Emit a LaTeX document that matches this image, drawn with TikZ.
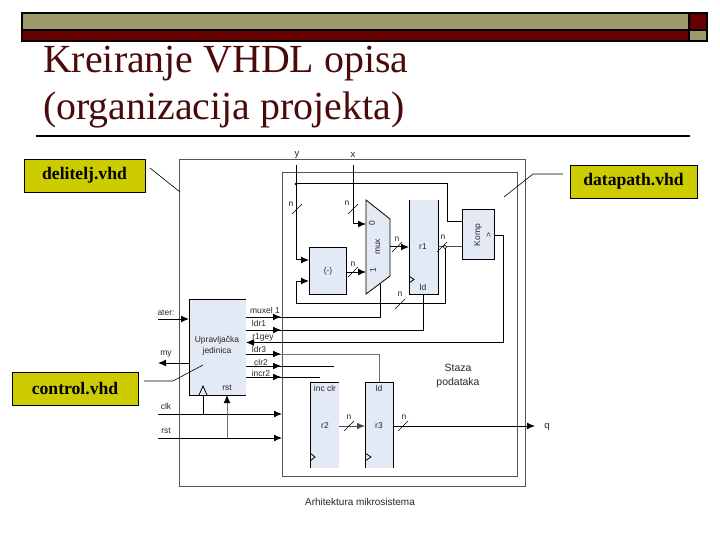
\documentclass[tikz,border=0pt]{standalone}
\usepackage{fontspec}
\setmainfont{Liberation Serif}
\newfontfamily\diafont{Liberation Sans}
\usetikzlibrary{arrows.meta}
\definecolor{olivebar}{HTML}{9C9A6A}
\definecolor{maroonbar}{HTML}{660000}
\definecolor{titlecol}{HTML}{4A0A0A}
\definecolor{blockblue}{HTML}{E4EAF5}
\definecolor{callout}{HTML}{CCCC00}
\definecolor{framegray}{HTML}{555555}
\tikzset{x=1bp,y=-1bp,
 bar/.style={draw=black,line width=1.4bp},
 calloutbox/.style={draw=black,line width=0.9bp,fill=callout,minimum width=#1,minimum height=33bp,inner sep=0pt,font=\fontsize{17.7}{19}\selectfont\bfseries,text=black},
 leader/.style={draw=black,line width=0.6bp},
 block/.style={fill=blockblue,draw=black,line width=0.8bp},
 lab/.style={font=\diafont\fontsize{8.5}{10}\selectfont,inner sep=0pt,text=black!85},
 wire/.style={draw=black,line width=1bp},
 sig/.style={wire,-{Latex[length=8bp,width=7bp]}},
 grayw/.style={draw=black!55,line width=1bp},
 slashmark/.style={draw=black,line width=0.6bp},
 dotj/.style={circle,fill=black,inner sep=0pt,minimum size=3bp},
 frame/.style={draw=framegray,line width=1bp},
}
\newcommand{\busn}[3]{\draw[slashmark] (#1-5,#2+5)--(#1+5,#2-5); \node[lab] at #3 {n};}
\begin{document}
\begin{tikzpicture}
\useasboundingbox (0,0) rectangle (720,540);
\fill[white] (0,0) rectangle (720,540);
% header
\node[anchor=base west,inner sep=0pt,text=titlecol,font=\fontsize{40}{44}\selectfont] (t1) at (43,73) {Kreiranje VHDL opisa};
\node[anchor=base west,inner sep=0pt,text=titlecol,font=\fontsize{40}{44}\selectfont] (t2) at (43,120) {(organizacija projekta)};
\filldraw[bar,fill=olivebar] (22,13) rectangle (689,30);
\filldraw[bar,fill=maroonbar] (22,30) rectangle (689,41);
\filldraw[bar,fill=maroonbar] (689,13) rectangle (707,30);
\filldraw[bar,fill=olivebar] (689,30) rectangle (707,41);
\coordinate (ruleL) at (36,136); \coordinate (ruleR) at (690,136);
\draw[black,line width=1.3bp] (ruleL)--(ruleR);
% frames
\draw[frame] (179,160) rectangle (525,486);
\draw[frame] (282,173) rectangle (517,476);
% blocks
\fill[blockblue] (309,247) rectangle (346,294);
\draw[wire,line width=0.8bp] (309,247) rectangle (346,294);
\node[lab] (minus) at (328,271) {(-)};
\coordinate (minusW1) at (309,260); \coordinate (minusW2) at (309,281); \coordinate (minusE) at (346,272);
\filldraw[block] (366,200)--(390,219)--(390,276)--(366,294)--cycle;
\node[lab,rotate=90] (muxl) at (378,247) {mux};
\node[lab,rotate=90] (mux0) at (372,223) {0};
\node[lab,rotate=90] (mux1) at (373,270) {1};
\coordinate (mux0W) at (366,224); \coordinate (mux1W) at (366,272); \coordinate (muxE) at (390,247); \coordinate (muxS) at (380,284);
\fill[blockblue] (409,200) rectangle (438,294);
\draw[wire,line width=0.8bp] (409,200)--(409,294)--(438,294)--(438,200);
\node[lab] (r1) at (423,247) {r1};
\node[lab] (r1ld) at (423,287) {ld};
\draw[wire,line width=0.8bp] (409,276)--(414,279.5)--(409,283);
\coordinate (r1W) at (409,247); \coordinate (r1E) at (438,247); \coordinate (r1S) at (423,294);
\filldraw[block,fill=blockblue] (462,209) rectangle (494,259);
\node[lab,rotate=90] (komp) at (478,235) {Komp};
\node[lab,rotate=90] (kompgt) at (489,235) {>};
\coordinate (kompW1) at (462,222); \coordinate (kompW2) at (462,247); \coordinate (kompE) at (494,236);
% control
\fill[blockblue] (189,299) rectangle (246,395);
\draw[wire,line width=0.8bp] (246,299)--(189,299)--(189,395)--(246,395);
\node[lab,align=center,font=\diafont\fontsize{8.5}{11}\selectfont] (ctrl) at (217,346) {Upravljačka\\jedinica};
\node[lab] (crst) at (227,388) {rst};
\draw[wire,line width=0.8bp] (199,395)--(203,386)--(207,395);
% r2 r3
\fill[blockblue] (310,382) rectangle (339,468);
\draw[wire,line width=0.8bp] (339,382)--(310,382)--(310,468);
\node[lab] (incclr) at (325,388) {inc clr};
\node[lab] (r2) at (325,426) {r2};
\draw[wire,line width=0.8bp] (310,453)--(315,457)--(310,461);
\fill[blockblue] (365,382) rectangle (393,468);
\draw[wire,line width=0.8bp] (365,468)--(365,382)--(393,382)--(393,468);
\node[lab] (r3ld) at (379,388) {ld};
\node[lab] (r3) at (379,426) {r3};
\draw[wire,line width=0.8bp] (365,453)--(371,457)--(365,461);
\coordinate (r2E) at (339,426); \coordinate (r3W) at (365,426); \coordinate (r3E) at (393,426); \coordinate (r3N) at (379,382);
% inputs
\coordinate (yIn) at (296,165); \coordinate (xIn) at (353,165);
\coordinate (yJ) at (296,184); \coordinate (r1J) at (445,247);
\node[lab,font=\diafont\fontsize{9.5}{11}\selectfont] (ylab) at (297,155) {y};
\node[lab,font=\diafont\fontsize{9.5}{11}\selectfont] (xlab) at (353,155) {x};
\draw[sig] (yIn)--(296,260)--(minusW1);
\draw[wire] (yJ)--(447,184)--(447,222)--(kompW1);
\draw[sig] (xIn)--(353,224)--(mux0W);
\draw[sig] (minusE)--(mux1W);
\draw[sig] (muxE)--(r1W);
\draw[wire,black!70] (r1E)--(kompW2);
\draw[sig] (r1J)--(445,303)--(296,303)--(296,281)--(minusW2);
\node[dotj] (yd) at (yJ) {};
\node[draw=black,fill=white,circle,inner sep=0pt,minimum size=3.5bp,line width=0.5bp] (r1d) at (r1J) {};
\busn{297}{209}{(291,204)}
\busn{353}{209}{(347,203)}
\busn{353}{272}{(353,264)}
\busn{397}{247}{(397,239)}
\busn{442}{247}{(443,237)}
\busn{400}{304}{(400,294)}
% control signals
\coordinate (cE1) at (246,317); \coordinate (cE2) at (246,330); \coordinate (cE3) at (246,342.5); \coordinate (cE4) at (246,354); \coordinate (cE5) at (246,366); \coordinate (cE6) at (246,377);
\draw[wire] (cE1)--(380,317)--(muxS);
\draw[sig] (cE1)--(281,317);
\draw[wire] (cE2)--(423,330)--(r1S);
\draw[sig] (cE2)--(281,330);
\draw[wire] (kompE)--(503,236)--(503,342.5)--(251,342.5);
\draw[sig] (262,342.5)--(cE3);
\draw[grayw] (cE4)--(379,354)--(r3N);
\draw[sig] (cE4)--(281,354);
\draw[wire] (cE5)--(334,366);
\draw[sig] (cE5)--(281,366);
\draw[wire] (cE6)--(320,377);
\draw[sig] (cE6)--(281,377);
\node[lab] (l1) at (265,310) {muxel 1};
\node[lab] (l2) at (259,323) {ldr1};
\node[lab] (l3) at (263,337) {r1gey};
\node[lab] (l4) at (259,349) {ldr3};
\node[lab] (l5) at (261,362) {clr2};
\node[lab] (l6) at (261,373) {incr2};
% left signals
\coordinate (aterIn) at (158,319); \coordinate (ctrlW1) at (189,319);
\coordinate (ctrlW2) at (189,363); \coordinate (myOut) at (158,363);
\coordinate (clkIn) at (158,414); \coordinate (clkEnd) at (282,414);
\coordinate (rstIn) at (158,438); \coordinate (rstEnd) at (282,438);
\draw[sig] (aterIn)--(ctrlW1);
\draw[sig] (ctrlW2)--(myOut);
\draw[sig] (clkIn)--(clkEnd);
\draw[sig] (rstIn)--(rstEnd);
\draw[wire] (203,414)--(203,395);
\draw[grayw,-{Latex[length=8bp,width=7bp,black]}] (227,438)--(227,395);
\node[lab] (ater) at (166,313) {ater:};
\node[lab] (my) at (166,354) {my};
\node[lab] (clk) at (166,406) {clk};
\node[lab] (rst) at (166,431) {rst};
% outputs
\coordinate (qEnd) at (535,426);
\draw[sig,black!70] (r2E)--(r3W);
\draw[sig] (r3E)--(qEnd);
\node[lab,font=\diafont\fontsize{9.5}{11}\selectfont] (q) at (547,427) {q};
\busn{349}{426}{(349,417)}
\busn{403}{426}{(404,417)}
\node[lab,align=center,font=\diafont\fontsize{10.5}{14}\selectfont] (staza) at (458,376) {Staza\\podataka};
\node[lab,font=\diafont\fontsize{10}{12}\selectfont] (arh) at (360,502) {Arhitektura mikrosistema};
% callouts
\node[calloutbox=121bp] (del) at (84.5,175.5) {delitelj.vhd};
\node[calloutbox=127bp] (dat) at (633.5,181.5) {datapath.vhd};
\node[calloutbox=126bp] (con) at (75,388.5) {control.vhd};
\coordinate (delA) at (150,168); \coordinate (delB) at (180,192);
\coordinate (datA) at (563,174); \coordinate (datB) at (533,174); \coordinate (datC) at (504,197);
\coordinate (conA) at (144,381); \coordinate (conB) at (173,381); \coordinate (conC) at (203,365);
\draw[leader] (delA)--(delB);
\draw[leader] (datA)--(datB)--(datC);
\draw[leader] (conA)--(conB)--(conC);
\end{tikzpicture}
\end{document}
